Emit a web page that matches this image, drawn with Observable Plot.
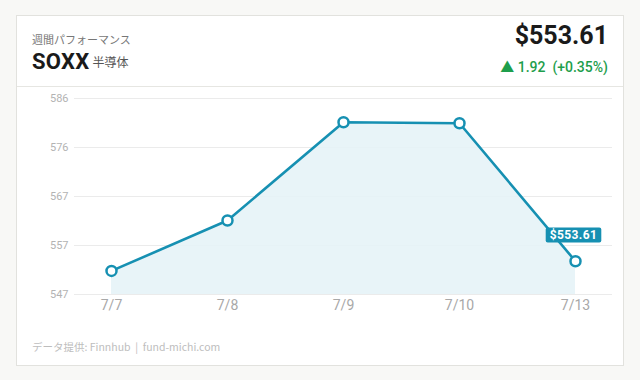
<!DOCTYPE html>
<html><head><meta charset="utf-8">
<script src="https://cdn.jsdelivr.net/npm/d3@7"></script>
<script src="https://cdn.jsdelivr.net/npm/@observablehq/plot@0.6"></script>
<style>
html,body{margin:0;padding:0;background:#f8f8f6;width:640px;height:380px;overflow:hidden;font-family:Roboto,"Noto Sans CJK JP",sans-serif;}
#card{position:absolute;left:16px;top:15px;width:606px;height:349px;background:#fff;border:1px solid #e2e2de;}
#sep{position:absolute;left:0;top:70px;width:606px;height:1px;background:#e6e6e2;}
.t1{position:absolute;left:15px;top:15px;font-size:11px;color:#777;font-family:"Noto Sans CJK JP",sans-serif;}
.t2{position:absolute;left:15px;top:33px;font-size:22px;font-weight:700;color:#1a1a1a;letter-spacing:0.3px;}
.t2 span{font-size:12px;font-weight:400;color:#555;font-family:"Noto Sans CJK JP",sans-serif;margin-left:3px;letter-spacing:0;vertical-align:2px;}
.p1{position:absolute;right:15px;top:5px;font-size:25px;font-weight:700;color:#1a1a1a;}
.p2{position:absolute;right:15px;top:40px;font-size:14px;font-weight:500;color:#1e9e4c;white-space:pre;}
.cap{position:absolute;left:15px;top:323px;font-size:10.5px;color:#bdbdbd;font-family:"Noto Sans CJK JP",Roboto,sans-serif;white-space:pre;}
#chart{position:absolute;left:0;top:86px;}
</style></head>
<body>
<div id="card">
  <div class="t1">週間パフォーマンス</div>
  <div class="t2">SOXX<span>半導体</span></div>
  <div class="p1">$553.61</div>
  <div class="p2">▲ 1.92  (+0.35%)</div>
  <div id="sep"></div>
  <div class="cap">データ提供: Finnhub  |  fund-michi.com</div>
</div>
<div id="chart"></div>
<script>
const dates = ["7/7", "7/8", "7/9", "7/10", "7/13"];
const prices = [551.69, 561.72, 581.28, 581.08, 553.61];
const yMin = 547;
const yMax = 586;
const yTickLabels = ["547", "557", "567", "576", "586"];
const lastLabel = "$553.61";

const lineColor = "#1690b2";
const data = dates.map((d, i) => ({date: d, price: prices[i]}));
const yTicks = yTickLabels.map((_, i) => yMin + i * (yMax - yMin) / (yTickLabels.length - 1));

const plot = Plot.plot({
  width: 640,
  height: 240,
  marginTop: 12,
  marginBottom: 32,
  marginLeft: 74,
  marginRight: 28,
  style: {background: "transparent", fontFamily: "Roboto, sans-serif"},
  x: {type: "point", domain: dates, padding: 0.3, label: null},
  y: {domain: [yMin, yMax], label: null},
  marks: [
    Plot.ruleY(yTicks, {stroke: "#ebebeb", strokeWidth: 1}),
    Plot.areaY(data, {x: "date", y1: () => yMin, y2: "price", fill: "#e6f3f7", fillOpacity: 0.9}),
    Plot.lineY(data, {x: "date", y: "price", stroke: lineColor, strokeWidth: 2.6}),
    Plot.dot(data, {x: "date", y: "price", r: 5, fill: "#fff", stroke: lineColor, strokeWidth: 2.5}),
    Plot.axisY({ticks: yTicks, tickFormat: (d, i) => yTickLabels[i], tickSize: 0, tickPadding: 6, fontSize: 11, fill: "#b3b3b3"}),
    Plot.axisX({tickSize: 0, tickPadding: 6, fontSize: 14, fill: "#a8a8a8"}),
    Plot.text([data[data.length - 1]], {x: "date", y: "price", text: () => lastLabel, dx: -2, dy: -26, fill: "#fff", fontWeight: 700, fontSize: 12, className: "lastlab"})
  ]
});
document.getElementById("chart").appendChild(plot);

// box behind last-value label
const svg = d3.select(plot);
svg.selectAll(".lastlab text").attr("letter-spacing", "0.4px").each(function() {
  const bb = this.getBBox();
  const g = this.parentNode;
  d3.select(g).insert("rect", "text")
    .attr("x", bb.x - 4).attr("y", bb.y - 0.5)
    .attr("width", bb.width + 8).attr("height", bb.height + 1)
    .attr("rx", 2).attr("fill", lineColor)
    .attr("transform", this.getAttribute("transform"));
});
</script>
</body></html>
